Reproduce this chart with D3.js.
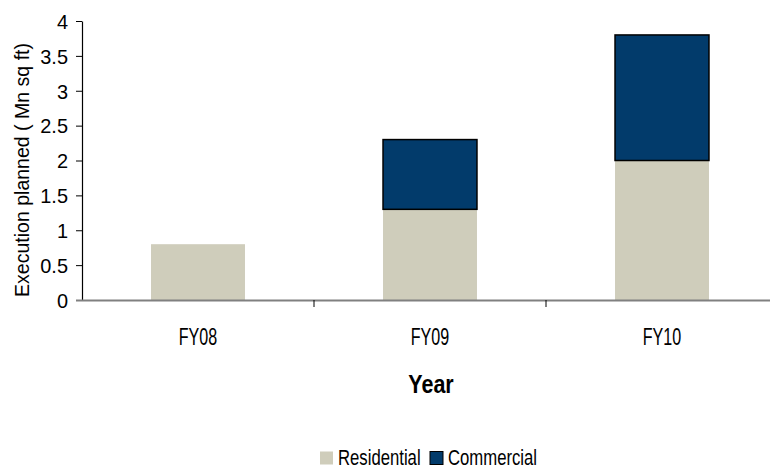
<!DOCTYPE html>
<html>
<head>
<meta charset="utf-8">
<script src="https://cdn.jsdelivr.net/npm/d3@7/dist/d3.min.js"></script>
<style>
  html, body { margin: 0; padding: 0; background: #fff; }
  svg { display: block; }
  text { font-family: "Liberation Sans", Arial, sans-serif; fill: #000; }
</style>
</head>
<body>
<svg id="chart" width="770" height="470"></svg>
<script>
// Planned execution area by year, million sq ft
const years = ["FY08", "FY09", "FY10"];
const residential = [0.8, 1.3, 2.0];
const commercial = [0, 1.0, 1.8];
const yTicks = [0, 0.5, 1, 1.5, 2, 2.5, 3, 3.5, 4];
const seriesNames = ["Residential", "Commercial"];
const seriesColors = ["#cfcdbb", "#023b6b"];

const svg = d3.select("#chart");
const plotLeft = 82, plotRight = 778, plotTop = 21, plotBottom = 300;

// narrow lettering: horizontal squeeze anchored at (x, y)
function narrowText(parent, x, yPos, k, str) {
  return parent.append("text")
    .attr("transform", `translate(${x},${yPos}) scale(${k},1)`)
    .text(str);
}

const x = d3.scaleBand().domain(years).range([plotLeft, plotRight]).paddingInner(0.595).paddingOuter(0.2975);
const y = d3.scaleLinear().domain([0, 4]).range([plotBottom, plotTop]);

const rows = years.map((yr, i) => ({ year: yr, Residential: residential[i], Commercial: commercial[i] }));
const stacked = d3.stack().keys(seriesNames)(rows);

// stacked bars
stacked.forEach((layer, li) => {
  svg.append("g").selectAll("rect")
    .data(layer.filter(d => d[1] - d[0] > 0))
    .join("rect")
    .attr("x", d => x(d.data.year))
    .attr("width", x.bandwidth())
    .attr("y", d => y(d[1]))
    .attr("height", d => y(d[0]) - y(d[1]))
    .attr("fill", seriesColors[li])
    .attr("stroke", li === 1 ? "#000" : "none")
    .attr("stroke-width", li === 1 ? 1.5 : 0);
});

// y axis
const tickK = 0.95;
const yAxis = svg.append("g")
  .attr("transform", `translate(${plotLeft},0)`)
  .call(d3.axisLeft(y).tickValues(yTicks).tickFormat(d3.format("")).tickSize(6).tickSizeOuter(0));
yAxis.attr("font-family", null);
yAxis.select(".domain").attr("stroke", "#000").attr("stroke-width", 1.2);
yAxis.selectAll(".tick line").attr("stroke", "#000");
yAxis.selectAll("text")
  .attr("font-size", 21)
  .attr("fill", "#000")
  .attr("x", -14 / tickK)
  .attr("dy", "0.35em")
  .attr("transform", `scale(${tickK},1)`);

// x axis baseline and separators between categories
svg.append("line")
  .attr("x1", plotLeft - 6).attr("x2", 770)
  .attr("y1", plotBottom + 0.5).attr("y2", plotBottom + 0.5)
  .attr("stroke", "#808080").attr("stroke-width", 2);
const gap = (x.step() - x.bandwidth()) / 2;
svg.append("g").selectAll("line")
  .data(years.slice(1))
  .join("line")
  .attr("x1", d => x(d) - gap)
  .attr("x2", d => x(d) - gap)
  .attr("y1", plotBottom).attr("y2", plotBottom + 7)
  .attr("stroke", "#000").attr("stroke-width", 1);

// category labels
const catG = svg.append("g").attr("font-size", 23).attr("text-anchor", "middle");
years.forEach(yr => narrowText(catG, x(yr) + x.bandwidth() / 2, 345, 0.7, yr));

// axis titles
narrowText(svg, 431, 393, 0.86, "Year")
  .attr("text-anchor", "middle")
  .attr("font-weight", "bold")
  .attr("font-size", 25);

svg.append("text")
  .attr("transform", `translate(29,170) rotate(-90)`)
  .attr("text-anchor", "middle")
  .attr("font-size", 21)
  .attr("textLength", 254)
  .attr("lengthAdjust", "spacingAndGlyphs")
  .text("Execution planned ( Mn sq ft)");

// legend
const legendItems = [
  { name: seriesNames[0], color: seriesColors[0], sx: 320, stroke: "none" },
  { name: seriesNames[1], color: seriesColors[1], sx: 430, stroke: "#000" }
];
const lg = svg.append("g").attr("font-size", 22);
legendItems.forEach(it => {
  lg.append("rect")
    .attr("x", it.sx).attr("y", 451.5)
    .attr("width", 13).attr("height", 13)
    .attr("fill", it.color)
    .attr("stroke", it.stroke).attr("stroke-width", 1);
  narrowText(lg, it.sx + 18, 465, 0.76, it.name);
});
</script>
</body>
</html>
